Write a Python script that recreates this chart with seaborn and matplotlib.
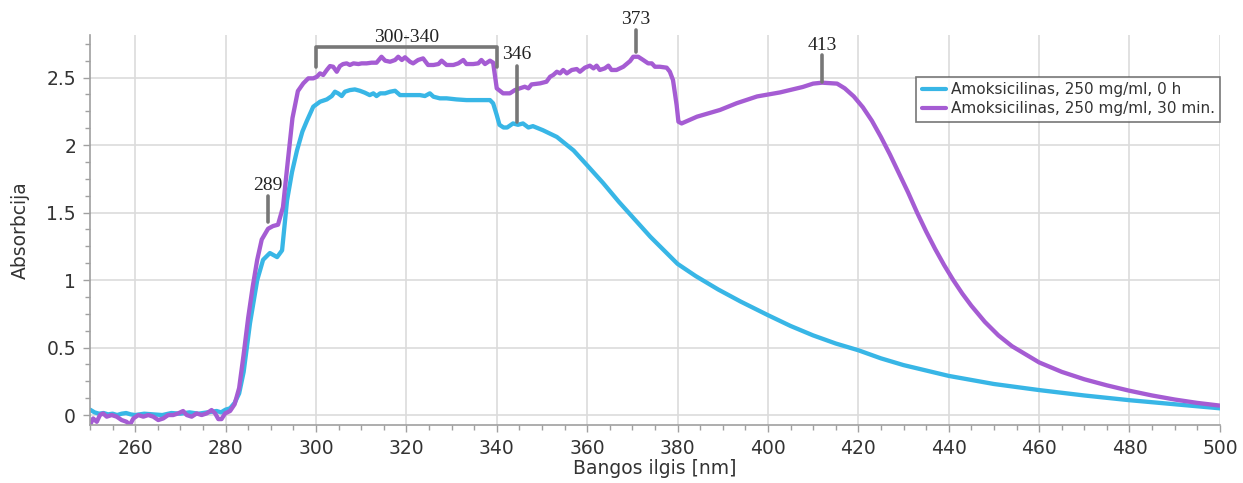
import matplotlib
matplotlib.use("Agg")
import matplotlib.pyplot as plt
from matplotlib.ticker import MultipleLocator, FixedLocator
import seaborn as sns
import pandas as pd

# wavelength (nm) and absorbance
blue_nm = [250, 251, 252, 253, 254, 255, 256, 257, 258, 259, 260, 262, 264, 266, 268, 270,
           272, 274, 276, 278, 279, 280, 281, 282, 283, 284, 285.4, 287, 288.3, 289.8, 291.4,
           292.5, 293.6, 294.7, 295.8, 297, 298, 299.4, 300.9, 302.4, 303.5, 304.2, 304.9,
           305.7, 306.4, 307.5, 308.6, 309.7, 310.8, 311.9, 312.7, 313.4, 314.2, 315.3, 316.4,
           317.5, 318.6, 320.1, 321.5, 323.0, 324.1, 325.2, 326.0, 327.4, 328.9, 331.1, 333.3,
           336.3, 338.5, 339.2, 340.0, 340.6, 341.5, 342.3, 343.6, 344.7, 345.8, 347, 348,
           350.2, 353.3, 357, 360, 363.5, 367, 370.5, 374, 377, 380, 384, 389, 394, 400, 405,
           410, 415, 420, 425, 430, 435, 440, 450, 460, 470, 480, 490, 500]
blue_abs = [0.04, 0.02, 0.01, 0.015, 0.005, 0.01, 0.0, 0.01, 0.015, 0.005, 0.0, 0.01, 0.005,
            0.0, 0.015, 0.01, 0.02, 0.01, 0.02, 0.03, 0.02, 0.04, 0.05, 0.09, 0.16, 0.32, 0.68,
            1.0, 1.15, 1.2, 1.17, 1.22, 1.59, 1.8, 1.96, 2.1, 2.18, 2.284, 2.321, 2.338, 2.363,
            2.395, 2.383, 2.363, 2.395, 2.407, 2.412, 2.402, 2.388, 2.37, 2.383, 2.363, 2.383,
            2.383, 2.395, 2.402, 2.37, 2.37, 2.37, 2.37, 2.363, 2.383, 2.358, 2.346, 2.346,
            2.338, 2.333, 2.333, 2.333, 2.309, 2.222, 2.15, 2.13, 2.13, 2.16, 2.15, 2.16, 2.13,
            2.14, 2.11, 2.06, 1.96, 1.85, 1.72, 1.58, 1.45, 1.32, 1.22, 1.12, 1.03, 0.93, 0.84,
            0.74, 0.66, 0.59, 0.53, 0.48, 0.42, 0.37, 0.33, 0.29, 0.23, 0.185, 0.145, 0.11,
            0.08, 0.05]

purple_nm = [250.0, 250.7, 251.5, 252.2, 252.9, 253.7, 254.8, 255.9, 257.0, 258.1, 258.8,
             259.6, 260.7, 261.8, 262.9, 264.0, 265.1, 266.2, 267.3, 268.4, 269.5, 270.6,
             271.4, 272.5, 273.6, 274.7, 275.8, 276.9, 277.7, 278.4, 279.1, 279.9, 281.0,
             282.0, 283.0, 284.0, 285.0, 286.0, 287.0, 288.0, 289.4, 290.5, 291.6, 292.7,
             293.8, 294.8, 296.0, 297.2, 298.3, 299.4, 300.2, 300.9, 301.6, 302.4, 303.1,
             303.8, 304.6, 305.3, 306.0, 306.8, 307.5, 308.3, 309.4, 310.1, 311.2, 312.3,
             313.4, 314.5, 315.3, 316.4, 317.5, 318.2, 319.0, 319.7, 320.8, 321.5, 322.6,
             323.7, 324.8, 326.0, 327.1, 327.8, 328.9, 330.4, 331.5, 332.6, 333.3, 334.8,
             335.9, 336.6, 337.4, 338.5, 339.2, 340.0, 341.4, 342.9, 344.0, 345.1, 346.2,
             347.0, 347.7, 349.6, 351.0, 351.8, 352.5, 353.3, 354.0, 354.7, 355.5, 356.6,
             357.7, 358.4, 359.5, 360.6, 361.4, 362.1, 362.8, 363.9, 364.7, 365.4, 366.5,
             368.0, 369.5, 370.2, 371.3, 372.4, 373.5, 374.3, 375.0, 376.1, 377.6, 378.3,
             379.0, 379.8, 380.2, 380.9, 384.3, 389.4, 393.1, 397.6, 402.7, 407.7, 410.0,
             412.0, 415.3, 417.0, 419.0, 421.0, 423.0, 425.0, 427.0, 429.0, 431.0, 433.0,
             435.0, 437.0, 439.0, 441.0, 443.0, 445.0, 448.0, 451.0, 454.0, 457.0, 460.0,
             465.0, 470.0, 475.0, 480.0, 485.0, 490.0, 495.0, 500.0]
purple_abs = [-0.074, -0.025, -0.05, 0.0, 0.012, -0.012, 0.0, -0.012, -0.037, -0.05, -0.074,
              -0.025, 0.0, -0.012, 0.0, -0.012, -0.037, -0.025, 0.0, 0.0, 0.012, 0.03, 0.0,
              -0.012, 0.012, 0.0, 0.012, 0.037, 0.012, -0.03, -0.03, 0.012, 0.03, 0.08, 0.2,
              0.45, 0.72, 0.95, 1.15, 1.3, 1.38, 1.4, 1.41, 1.54, 1.89, 2.2, 2.4, 2.457, 2.494,
              2.494, 2.506, 2.531, 2.519, 2.556, 2.585, 2.58, 2.543, 2.585, 2.6, 2.605, 2.593,
              2.605, 2.6, 2.605, 2.605, 2.61, 2.61, 2.654, 2.625, 2.617, 2.63, 2.654, 2.63,
              2.65, 2.617, 2.605, 2.63, 2.642, 2.593, 2.593, 2.6, 2.625, 2.593, 2.593, 2.605,
              2.63, 2.6, 2.6, 2.605, 2.63, 2.6, 2.625, 2.61, 2.42, 2.383, 2.383, 2.407, 2.42,
              2.432, 2.42, 2.449, 2.457, 2.469, 2.506, 2.519, 2.543, 2.531, 2.556, 2.531,
              2.556, 2.563, 2.543, 2.573, 2.588, 2.568, 2.588, 2.556, 2.568, 2.588, 2.556,
              2.556, 2.58, 2.622, 2.654, 2.654, 2.63, 2.605, 2.605, 2.58, 2.58, 2.573, 2.543,
              2.481, 2.296, 2.173, 2.16, 2.21, 2.26, 2.31, 2.36, 2.39, 2.43, 2.455, 2.462,
              2.455, 2.42, 2.36, 2.28, 2.18, 2.06, 1.93, 1.79, 1.65, 1.5, 1.36, 1.23, 1.11,
              1.0, 0.9, 0.81, 0.69, 0.59, 0.51, 0.45, 0.39, 0.32, 0.265, 0.22, 0.18, 0.145,
              0.115, 0.09, 0.07]

series_names = ["Amoksicilinas, 250 mg/ml, 0 h", "Amoksicilinas, 250 mg/ml, 30 min."]
series_colors = ["#38b6e6", "#a55cd3"]

x_ticks = [260, 280, 300, 320, 340, 360, 380, 400, 420, 440, 460, 480, 500]
y_ticks = [0, 0.5, 1, 1.5, 2, 2.5]
y_tick_labels = ["0", "0.5", "1", "1.5", "2", "2.5"]

# peak labels: x, label y, line bottom, line top
peak_labels = ["289", "346", "373", "413"]
peak_x = [289.4, 344.5, 370.8, 412.0]
peak_text_y = [1.70, 2.67, 2.93, 2.74]
peak_line_lo = [1.43, 2.17, 2.69, 2.47]
peak_line_hi = [1.62, 2.585, 2.85, 2.67]

df = pd.concat([
    pd.DataFrame({"nm": blue_nm, "abs": blue_abs, "serie": series_names[0]}),
    pd.DataFrame({"nm": purple_nm, "abs": purple_abs, "serie": series_names[1]}),
])

sns.set_style("white")
plt.rcParams["font.family"] = ["DejaVu Sans"]

fig = plt.figure(figsize=(12.43, 4.83), dpi=100)
ax = fig.add_axes([0.0724, 0.12, 0.909, 0.8075])

sns.lineplot(data=df, x="nm", y="abs", hue="serie", palette=series_colors,
             estimator=None, sort=False, linewidth=3.1, ax=ax)

ax.set_xlim(250, 500)
ax.set_ylim(-0.074, 2.815)
ax.xaxis.set_major_locator(FixedLocator(x_ticks))
ax.xaxis.set_minor_locator(MultipleLocator(5))
ax.set_yticks(y_ticks)
ax.set_yticklabels(y_tick_labels)
ax.yaxis.set_minor_locator(MultipleLocator(0.125))
ax.grid(True, which="major", color="#dcdcdc", linewidth=1.2)
ax.set_axisbelow(True)
ax.tick_params(which="both", direction="out", colors="#a0a0a0", labelcolor="#333333",
               labelsize=13.5, left=True, bottom=True)
ax.tick_params(which="major", length=5, width=1, pad=5)
ax.tick_params(which="minor", length=3.5, width=1)
for s in ["top", "right"]:
    ax.spines[s].set_visible(False)
for s in ["left", "bottom"]:
    ax.spines[s].set_color("#a0a0a0")
    ax.spines[s].set_linewidth(1.2)

ax.set_xlabel("Bangos ilgis [nm]", fontsize=13.5, color="#333333", labelpad=1)
ax.set_ylabel("Absorbcija", fontsize=13.5, color="#333333", labelpad=12)

# peak markers
serif = ["Liberation Serif", "DejaVu Serif"]
for lab, x, ty, lo, hi in zip(peak_labels, peak_x, peak_text_y, peak_line_lo, peak_line_hi):
    ax.plot([x, x], [lo, hi], color="#777777", linewidth=2.6, clip_on=False)
    ax.text(x, ty, lab, ha="center", va="center", fontsize=14, family=serif,
            color="#222222", clip_on=False)

# bracket 300-340
ax.plot([300, 300, 340, 340], [2.58, 2.726, 2.726, 2.58], color="#777777",
        linewidth=2.6, clip_on=False)
ax.text(320, 2.795, "300-340", ha="center", va="center", fontsize=14, family=serif,
        color="#222222", clip_on=False)

leg = ax.legend(loc="upper right", bbox_to_anchor=(1.0, 0.892), borderaxespad=0,
                fontsize=11, frameon=True, fancybox=False, handlelength=1.6,
                handletextpad=0.3, borderpad=0.35, labelspacing=0.25, title=None)
leg.get_frame().set_edgecolor("#555555")
leg.get_frame().set_linewidth(1.2)
for line in leg.get_lines():
    line.set_linewidth(3)
for t in leg.get_texts():
    t.set_color("#333333")

fig.savefig("out.png", dpi=100)
